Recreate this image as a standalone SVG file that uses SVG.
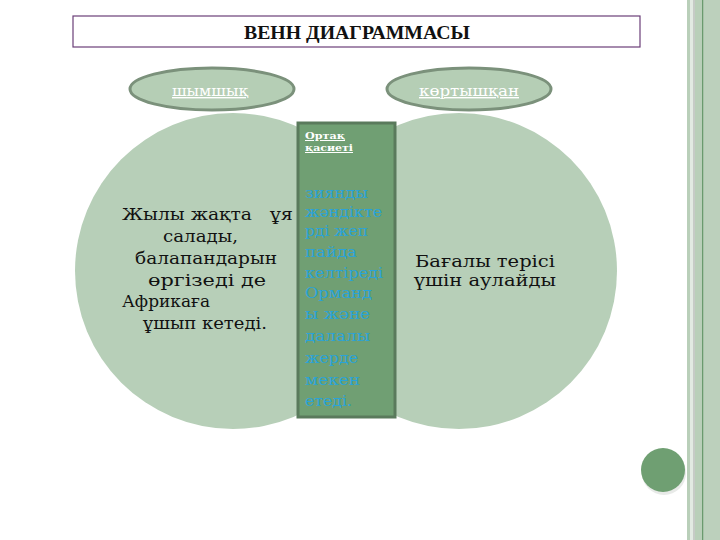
<svg xmlns="http://www.w3.org/2000/svg" width="720" height="540" viewBox="0 0 720 540">
<style>
.serif{font-family:"DejaVu Serif","Liberation Serif",serif}
.big{font-size:17.5px;fill:#111}
.mid{font-size:16px;fill:#111}
.lbl{font-size:14px;fill:#ffffff;text-decoration:underline}
.blue{font-size:15px;fill:#2aa3d8}
.circ{fill:#b7cfb8}
.oval{fill:#b5ceb5;stroke:#7b917b;stroke-width:3}
</style>
<rect width="720" height="540" fill="#ffffff"/>
<g id="border">
<rect x="687" y="0" width="33" height="540" fill="#b9cfb9"/>
<rect x="690" y="0" width="3" height="540" fill="#e2eae2"/>
<rect x="693" y="0" width="2" height="540" fill="#c6cbc6"/>
<rect x="702" y="0" width="1.5" height="540" fill="#6a9a6e"/>
<rect x="703.5" y="0" width="16.5" height="540" fill="#bcd0bc"/>
</g>
<g id="title">
<rect x="73" y="16" width="567" height="31" fill="#ffffff" stroke="#6b3f78" stroke-width="1.2"/>
<text x="357" y="39" text-anchor="middle" font-family="Liberation Serif, DejaVu Serif, serif" font-size="18" font-weight="bold" fill="#111" textLength="226" lengthAdjust="spacingAndGlyphs">ВЕНН ДИАГРАММАСЫ</text>
</g>
<g id="left-circle">
<circle class="circ" cx="233" cy="271" r="158"/>
<text class="serif big" x="122" y="220" textLength="130" lengthAdjust="spacingAndGlyphs">Жылы жақта</text>
<text class="serif big" x="270" y="220" textLength="23" lengthAdjust="spacingAndGlyphs">ұя</text>
<text class="serif big" x="163" y="242" textLength="75" lengthAdjust="spacingAndGlyphs">салады,</text>
<text class="serif big" x="135" y="264" textLength="142" lengthAdjust="spacingAndGlyphs">балапандарын</text>
<text class="serif big" x="148" y="286" textLength="118" lengthAdjust="spacingAndGlyphs">өргізеді де</text>
<text class="serif big" x="122" y="307" textLength="88" lengthAdjust="spacingAndGlyphs">Африкаға</text>
<text class="serif big" x="143" y="329" textLength="124" lengthAdjust="spacingAndGlyphs">ұшып кетеді.</text>
</g>
<g id="right-circle">
<circle class="circ" cx="459" cy="271" r="158"/>
<text class="serif mid" x="415" y="267" textLength="140" lengthAdjust="spacingAndGlyphs">Бағалы  терісі</text>
<text class="serif mid" x="414" y="286" textLength="142" lengthAdjust="spacingAndGlyphs">үшін  аулайды</text>
</g>
<g id="left-oval">
<ellipse class="oval" cx="212" cy="89" rx="82" ry="21"/>
<text class="serif lbl" x="172" y="96" textLength="76" lengthAdjust="spacingAndGlyphs">шымшық</text>
</g>
<g id="right-oval">
<ellipse class="oval" cx="469" cy="89" rx="82" ry="21"/>
<text class="serif lbl" x="419" y="96" textLength="100" lengthAdjust="spacingAndGlyphs">көртышқан</text>
</g>
<g id="common">
<rect x="298" y="123" width="97" height="294" fill="#709f73" stroke="#5a7a5c" stroke-width="3"/>
<text class="serif" x="305" y="139" font-size="10" font-weight="bold" fill="#ffffff" text-decoration="underline" textLength="40" lengthAdjust="spacingAndGlyphs">Ортақ</text>
<text class="serif" x="305" y="151" font-size="10" font-weight="bold" fill="#ffffff" text-decoration="underline" textLength="48" lengthAdjust="spacingAndGlyphs">қасиеті</text>
<text class="serif blue" x="305" y="198" textLength="63" lengthAdjust="spacingAndGlyphs">зиянды</text>
<text class="serif blue" x="305" y="217" textLength="77" lengthAdjust="spacingAndGlyphs">жәндікте</text>
<text class="serif blue" x="305" y="236" textLength="63" lengthAdjust="spacingAndGlyphs">рді  жеп</text>
<text class="serif blue" x="305" y="257" textLength="52" lengthAdjust="spacingAndGlyphs">пайда</text>
<text class="serif blue" x="305" y="278" textLength="78" lengthAdjust="spacingAndGlyphs">келтіреді</text>
<text class="serif blue" x="305" y="298" textLength="67" lengthAdjust="spacingAndGlyphs">Орманд</text>
<text class="serif blue" x="305" y="319" textLength="65" lengthAdjust="spacingAndGlyphs">ы  және</text>
<text class="serif blue" x="305" y="341" textLength="65" lengthAdjust="spacingAndGlyphs">далалы</text>
<text class="serif blue" x="305" y="363" textLength="53" lengthAdjust="spacingAndGlyphs">жерде</text>
<text class="serif blue" x="305" y="385" textLength="55" lengthAdjust="spacingAndGlyphs">мекен</text>
<text class="serif blue" x="305" y="406" textLength="47" lengthAdjust="spacingAndGlyphs">етеді.</text>
</g>
<g id="dot">
<circle cx="664" cy="473" r="22" fill="#d8dcd8" opacity="0.6"/>
<circle cx="663" cy="470" r="22" fill="#6f9f72"/>
</g>
<g id="connectors"></g>
</svg>
